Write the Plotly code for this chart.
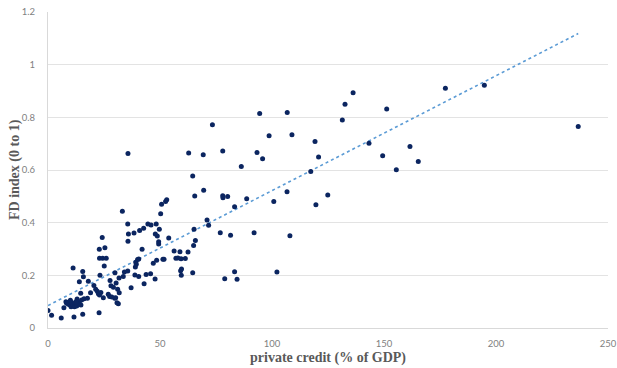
import numpy as np
import plotly.graph_objects as go

# private credit (% of GDP)
credit = [
    0.0, 1.6, 5.9, 7.1, 8.0, 8.3, 8.8, 9.1, 9.8, 10.3, 10.6, 11.3, 11.8, 12.1, 12.8, 13.5, 14.0, 14.7, 15.0,
    11.6, 11.2, 14.0, 15.5, 15.8, 14.6, 15.5, 13.0, 12.4, 10.0,
    16.1, 17.6, 18.0, 19.0, 20.5, 21.3, 22.0, 22.5, 23.0, 23.6, 24.7, 22.8, 22.9, 24.2, 25.4, 23.0, 24.4, 26.0,
    25.1, 23.2, 26.9, 27.7, 28.1, 29.2, 29.8, 30.4, 31.1, 31.4, 27.5, 28.5, 29.9, 30.8, 31.8, 31.7, 30.2,
    33.2, 33.6, 34.1, 35.6, 35.7, 35.9, 35.6, 35.7, 37.1, 38.4, 38.8, 39.0, 39.2, 39.4, 40.0, 40.5, 40.5,
    40.9, 42.0, 42.9, 42.7, 43.8, 44.6, 46.0, 45.8, 47.0, 48.5, 47.8, 48.3, 49.7, 47.9, 48.8, 49.4, 49.4,
    50.3, 50.7, 52.5, 53.0, 53.9, 51.3, 51.8, 56.3, 57.1, 58.0, 59.4, 58.9, 59.2, 59.6, 59.5, 61.3, 62.5,
    62.8, 64.6, 64.6, 65.0, 65.2, 65.5, 65.8, 69.3, 69.5, 71.0, 71.7, 73.4, 76.9, 78.0, 78.0, 78.1, 80.2,
    78.9, 81.5, 83.3, 83.3, 84.4, 86.3, 88.7, 92.0, 93.3, 94.5, 95.8, 98.7, 100.8, 102.2, 106.7, 106.8,
    108.0, 108.9, 117.3, 119.2, 119.6, 120.8, 124.9, 131.4, 132.6,
    136.2, 151.2, 143.3, 149.4, 161.6, 155.5, 165.3, 177.4, 194.8, 236.7,
]

# FD index (0 to 1)
fd_index = [
    0.066, 0.048, 0.038, 0.077, 0.100, 0.094, 0.096, 0.090, 0.087, 0.081, 0.096, 0.087, 0.081, 0.094, 0.084, 0.100, 0.094, 0.087, 0.106,
    0.042, 0.228, 0.176, 0.215, 0.195, 0.132, 0.052, 0.110, 0.100, 0.105,
    0.111, 0.113, 0.178, 0.134, 0.161, 0.147, 0.140, 0.130, 0.125, 0.135, 0.115, 0.058, 0.299, 0.344, 0.305, 0.265, 0.265, 0.265,
    0.235, 0.200, 0.128, 0.180, 0.160, 0.155, 0.113, 0.171, 0.147, 0.092, 0.120, 0.118, 0.210, 0.096, 0.134, 0.190, 0.115,
    0.443, 0.196, 0.213, 0.216, 0.329, 0.357, 0.395, 0.663, 0.153, 0.361, 0.201, 0.232, 0.250, 0.242, 0.260, 0.262, 0.196,
    0.370, 0.299, 0.168, 0.379, 0.203, 0.395, 0.391, 0.206, 0.246, 0.257, 0.186, 0.395, 0.375, 0.357, 0.349, 0.328, 0.319,
    0.434, 0.470, 0.480, 0.487, 0.342, 0.261, 0.261, 0.292, 0.265, 0.266, 0.263, 0.290, 0.217, 0.224, 0.200, 0.264, 0.289,
    0.665, 0.577, 0.210, 0.313, 0.375, 0.501, 0.332, 0.658, 0.523, 0.410, 0.390, 0.772, 0.362, 0.672, 0.502, 0.495, 0.499,
    0.187, 0.352, 0.460, 0.214, 0.185, 0.613, 0.491, 0.362, 0.666, 0.815, 0.643, 0.730, 0.480, 0.213, 0.517, 0.818,
    0.350, 0.734, 0.594, 0.708, 0.468, 0.649, 0.505, 0.790, 0.850,
    0.893, 0.832, 0.702, 0.654, 0.689, 0.601, 0.632, 0.910, 0.922, 0.765,
]

x_ticks = [0, 50, 100, 150, 200, 250]
y_ticks = [0, 0.2, 0.4, 0.6, 0.8, 1.0, 1.2]
y_tick_text = ["0", "0.2", "0.4", "0.6", "0.8", "1", "1.2"]

x_title = "private credit (% of GDP)"
y_title = "FD index (0 to 1)"

# linear trend line (least-squares fit of the data)
slope, intercept = np.polyfit(credit, fd_index, 1)
trend_x = [0.0, max(credit)]
trend_y = [intercept + slope * v for v in trend_x]

fig = go.Figure()
fig.add_trace(go.Scatter(
    x=trend_x, y=trend_y, mode="lines",
    line=dict(color="#5B9BD5", width=1.6, dash="dot"),
    hoverinfo="skip", showlegend=False,
))
fig.add_trace(go.Scatter(
    x=credit, y=fd_index, mode="markers",
    marker=dict(color="#0B2560", size=5, line=dict(width=0)),
    showlegend=False,
))

tick_font = dict(family="Lato, Liberation Sans, sans-serif", size=9.5, color="#7F7F7F")
title_font = dict(family="Liberation Serif, Times New Roman, serif", size=14, color="#595959")

fig.update_layout(
    width=617, height=368,
    margin=dict(l=48, r=9, t=12, b=40),
    paper_bgcolor="white", plot_bgcolor="white",
    xaxis=dict(
        range=[0, 250], tickvals=x_ticks, ticktext=[str(v) for v in x_ticks],
        showgrid=False, zeroline=False, automargin=False,
        showline=True, linecolor="#D9D9D9", linewidth=1,
        ticks="", tickfont=tick_font, ticklabelstandoff=7, ticklabeloverflow="allow",
    ),
    yaxis=dict(
        range=[0, 1.2], tickvals=y_ticks, ticktext=y_tick_text,
        showgrid=True, gridcolor="#E3E3E3", gridwidth=1, zeroline=False, automargin=False,
        showline=True, linecolor="#D9D9D9", linewidth=1,
        ticks="", tickfont=tick_font, ticklabelstandoff=10, ticklabeloverflow="allow",
    ),
    annotations=[
        dict(text=f"<b>{x_title}</b>", xref="paper", yref="paper", x=0.5, y=0,
             xanchor="center", yanchor="middle", yshift=-30, showarrow=False, font=title_font),
        dict(text=f"<b>{y_title}</b>", xref="paper", yref="paper", x=0, y=0.5,
             xanchor="center", yanchor="middle", xshift=-33, textangle=-90,
             showarrow=False, font=title_font),
    ],
)

# remove the default 8px page margin so the figure fills the window exactly
fig.write_html(
    "out.html",
    config={"displayModeBar": False},
    post_script="document.body.style.margin='0';document.body.style.padding='0';",
)
